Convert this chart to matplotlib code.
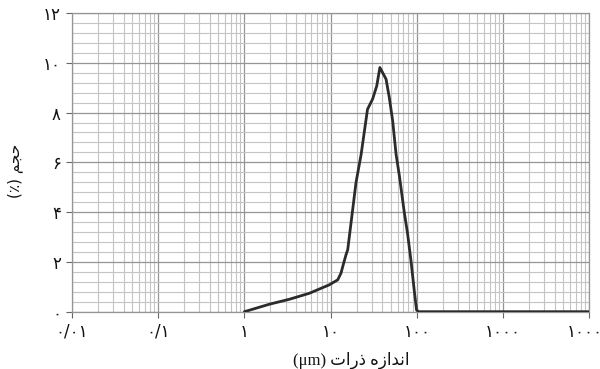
import matplotlib
matplotlib.use("Agg")
import matplotlib.pyplot as plt
from matplotlib.ticker import FixedLocator, LogLocator, NullFormatter, MultipleLocator
import numpy as np

# Particle size distribution (volume %) vs particle size in micrometres
size_um = [1.0, 1.95, 3.33, 5.67, 9.66, 12.1, 13.2, 14.0, 15.1, 15.8, 16.5,
           19.7, 22.6, 26.8, 30.7, 34.3, 37.3, 39.5, 44.0, 48.0, 52.5, 57.5,
           62.9, 71.7, 78.0, 85.4, 93.3, 99.3, 104.7, 10000.0]
volume_pct = [0.0, 0.30, 0.50, 0.74, 1.08, 1.28, 1.55, 1.88, 2.29, 2.49, 3.02,
              5.18, 6.32, 8.13, 8.54, 9.07, 9.81, 9.65, 9.34, 8.60, 7.66, 6.32,
              5.44, 3.97, 3.16, 2.08, 0.87, 0.07, 0.0, 0.0]

x_ticks = [0.01, 0.1, 1, 10, 100, 1000, 10000]
x_tick_labels = ["۰/۰۱", "۰/۱", "۱", "۱۰", "۱۰۰", "۱۰۰۰", "۱۰۰۰۰"]
y_ticks = [0, 2, 4, 6, 8, 10, 12]
y_tick_labels = ["۰", "۲", "۴", "۶", "۸", "۱۰", "۱۲"]

# Arabic-script labels written in presentation forms, visual order
x_label = "(μm) \uFE95\uFE8D\uFEAD\uFEAB \uFEE9\uFEAF\uFE8D\uFEAA\uFEE7\uFE8D"
y_label = "(\u066A) \uFEE2\uFEA0\uFEA3"

fig = plt.figure(figsize=(6.0, 3.69), dpi=100)
ax = fig.add_axes([0.12, 0.1553, 0.862, 0.8095])

ax.set_xscale("log")
ax.set_xlim(0.01, 10000)
ax.set_ylim(0, 12)

ax.xaxis.set_major_locator(FixedLocator(x_ticks))
ax.xaxis.set_minor_locator(LogLocator(base=10, subs=np.arange(2, 10)))
ax.xaxis.set_minor_formatter(NullFormatter())
ax.set_xticklabels(x_tick_labels)
ax.yaxis.set_major_locator(FixedLocator(y_ticks))
ax.yaxis.set_minor_locator(MultipleLocator(0.4))
ax.set_yticklabels(y_tick_labels)

ax.grid(which="major", color="#959595", linewidth=0.9)
ax.grid(which="minor", color="#c4c4c4", linewidth=0.8)
ax.set_axisbelow(True)

for s in ax.spines.values():
    s.set_color("#959595")
    s.set_linewidth(0.9)

ax.tick_params(which="major", length=4, width=0.8, color="#666666",
               labelsize=12, pad=4, labelcolor="#111111")
ax.tick_params(which="minor", length=0)
for lab in ax.get_xticklabels() + ax.get_yticklabels():
    lab.set_family(["DejaVu Sans"])

ax.plot(size_um, volume_pct, color="#2b2b2b", linewidth=2.0,
        solid_joinstyle="round", solid_capstyle="round", zorder=3)

ax.set_xlabel(x_label, fontsize=12, family=["Liberation Serif", "DejaVu Sans"],
              color="#111111")
ax.xaxis.set_label_coords((351 - 72) / 517, -0.135)
ax.set_ylabel(y_label, fontsize=11, family=["DejaVu Sans"], color="#111111")
ax.yaxis.set_label_coords(-0.095, 0.47)

fig.savefig("out.png", dpi=100)
